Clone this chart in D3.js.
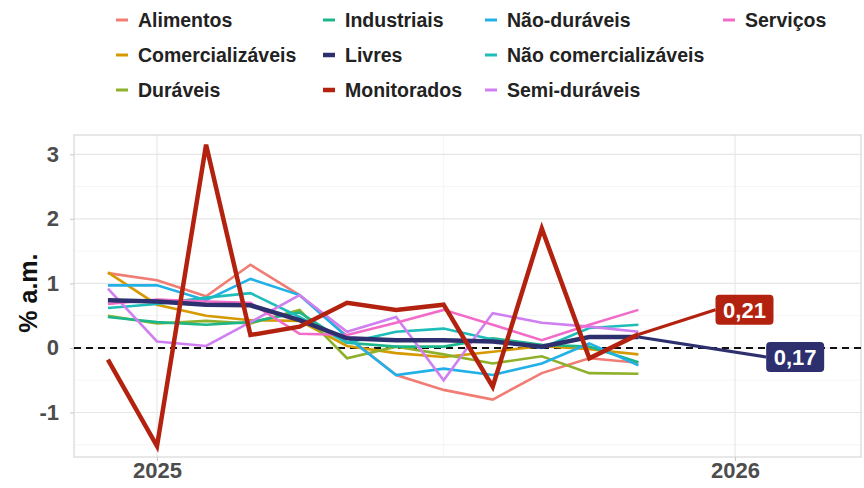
<!DOCTYPE html>
<html>
<head>
<meta charset="utf-8">
<script src="https://cdn.jsdelivr.net/npm/d3@7"></script>
<style>
  body { margin: 0; background: #fff; }
  svg { display: block; font-family: "Liberation Sans", Arial, sans-serif; }
</style>
</head>
<body>
<script>
// monthly inflation by IPCA group, % a.m.
var months = ["2024-12-01", "2025-01-01", "2025-02-01", "2025-03-01", "2025-04-01", "2025-05-01",
              "2025-06-01", "2025-07-01", "2025-08-01", "2025-09-01", "2025-10-01", "2025-11-01"];

var alimentos          = [1.16, 1.05, 0.80, 1.29, 0.82, 0.18, -0.42, -0.65, -0.80, -0.39, -0.16, -0.23];
var comercializaveis   = [1.17, 0.67, 0.50, 0.43, 0.42, 0.03, -0.08, -0.14, -0.06, 0.03, -0.02, -0.10];
var duraveis           = [0.50, 0.38, 0.42, 0.38, 0.59, -0.16, 0.02, -0.10, -0.24, -0.13, -0.39, -0.40];
var industriais        = [0.48, 0.40, 0.36, 0.40, 0.55, 0.08, 0.02, 0.02, 0.15, 0.05, 0.02, -0.22];
var livres             = [0.74, 0.72, 0.67, 0.66, 0.43, 0.15, 0.12, 0.12, 0.10, 0.02, 0.17, 0.17];
var monitorados        = [-0.18, -1.52, 3.15, 0.20, 0.33, 0.70, 0.59, 0.67, -0.60, 1.85, -0.16, 0.21];
var naoDuraveis        = [0.97, 0.97, 0.74, 1.07, 0.82, 0.17, -0.42, -0.32, -0.42, -0.24, 0.07, -0.27];
var naoComercializaveis = [0.62, 0.68, 0.78, 0.85, 0.48, 0.08, 0.25, 0.30, 0.13, 0.00, 0.31, 0.36];
var semiDuraveis       = [0.92, 0.10, 0.03, 0.40, 0.82, 0.25, 0.48, -0.50, 0.54, 0.39, 0.33, 0.25];
var servicos           = [0.68, 0.75, 0.72, 0.70, 0.22, 0.20, 0.39, 0.59, 0.36, 0.12, 0.36, 0.59];

var yTicks = [-1, 0, 1, 2, 3];
var xTicks = ["2025-01-01", "2026-01-01"];

// labels for the last values (placed like ggrepel)
var labelNames  = ["Monitorados", "Livres"];
var labelTexts  = ["0,21", "0,17"];
var labelDates  = ["2026-01-07", "2026-02-08"];
var labelLevels = [0.59, -0.14];

var series = [
  {name: "Alimentos", values: alimentos, color: "#f07c74", w: 2.6},
  {name: "Comercializáveis", values: comercializaveis, color: "#d69a00", w: 2.6},
  {name: "Duráveis", values: duraveis, color: "#8fb02a", w: 2.6},
  {name: "Industriais", values: industriais, color: "#1db58a", w: 2.6},
  {name: "Não-duráveis", values: naoDuraveis, color: "#22b1e6", w: 2.6},
  {name: "Não comercializáveis", values: naoComercializaveis, color: "#1ebdba", w: 2.6},
  {name: "Semi-duráveis", values: semiDuraveis, color: "#d07ff0", w: 2.6},
  {name: "Serviços", values: servicos, color: "#f26bc8", w: 2.6},
  {name: "Livres", values: livres, color: "#2d2f6e", w: 4.5},
  {name: "Monitorados", values: monitorados, color: "#b3220f", w: 4.5}
];
var colorOf = {};
series.forEach(function(s) { colorOf[s.name] = s; });

// legend columns (ggplot fills column by column)
var legendCols = [
  ["Alimentos", "Comercializáveis", "Duráveis"],
  ["Industriais", "Livres", "Monitorados"],
  ["Não-duráveis", "Não comercializáveis", "Semi-duráveis"],
  ["Serviços"]
];

var W = 864, H = 488;
var margin = {top: 135, right: 3, bottom: 31, left: 74};
var parse = d3.timeParse("%Y-%m-%d");

var svg = d3.select("body").append("svg")
    .attr("width", W)
    .attr("height", H);

// scales
var base = d3.scaleTime()
    .domain([parse("2025-01-01"), parse("2026-01-01")])
    .range([157, 735]);
var x = d3.scaleTime()
    .domain([base.invert(margin.left), base.invert(W - margin.right)])
    .range([margin.left, W - margin.right]);
var y = d3.scaleLinear()
    .domain([-1.69, 3.30])
    .range([H - margin.bottom, margin.top]);

var panel = svg.append("g");

// minor grid
var minorY = [-1.5, -0.5, 0.5, 1.5, 2.5];
panel.selectAll(".minY").data(minorY).enter().append("line")
    .attr("x1", margin.left).attr("x2", W - margin.right)
    .attr("y1", function(d) { return y(d); }).attr("y2", function(d) { return y(d); })
    .attr("stroke", "#f2f2f2").attr("stroke-width", 0.8);
panel.selectAll(".minX").data(["2025-07-01"]).enter().append("line")
    .attr("y1", margin.top).attr("y2", H - margin.bottom)
    .attr("x1", function(d) { return x(parse(d)); }).attr("x2", function(d) { return x(parse(d)); })
    .attr("stroke", "#f2f2f2").attr("stroke-width", 0.8);

// major grid
panel.selectAll(".majY").data(yTicks).enter().append("line")
    .attr("x1", margin.left).attr("x2", W - margin.right)
    .attr("y1", function(d) { return y(d); }).attr("y2", function(d) { return y(d); })
    .attr("stroke", "#e6e6e6").attr("stroke-width", 1.1);
panel.selectAll(".majX").data(xTicks).enter().append("line")
    .attr("y1", margin.top).attr("y2", H - margin.bottom)
    .attr("x1", function(d) { return x(parse(d)); }).attr("x2", function(d) { return x(parse(d)); })
    .attr("stroke", "#e6e6e6").attr("stroke-width", 1.1);

// panel border
panel.append("rect")
    .attr("x", margin.left).attr("y", margin.top)
    .attr("width", W - margin.right - margin.left)
    .attr("height", H - margin.bottom - margin.top)
    .attr("fill", "none").attr("stroke", "#d0d0d0").attr("stroke-width", 1);

// axes
var yAxis = svg.append("g")
    .attr("transform", "translate(" + margin.left + ",0)")
    .call(d3.axisLeft(y).tickValues(yTicks).tickSize(4).tickPadding(11)
          .tickFormat(function(d) { return String(d); }));
var xAxis = svg.append("g")
    .attr("transform", "translate(0," + (H - margin.bottom) + ")")
    .call(d3.axisBottom(x).tickValues(xTicks.map(parse)).tickSize(4).tickPadding(1)
          .tickFormat(d3.timeFormat("%Y")));
[yAxis, xAxis].forEach(function(a) {
  a.select(".domain").remove();
  a.selectAll(".tick line").attr("stroke", "#c8c8c8").attr("stroke-width", 1);
  a.selectAll(".tick text")
    .attr("fill", "#4d4d4d")
    .style("font-size", "22px")
    .style("font-weight", "bold")
    .style("font-family", "'Liberation Sans', Arial, sans-serif");
});

svg.append("text")
    .attr("transform", "translate(37," + y(0.85) + ") rotate(-90)")
    .attr("text-anchor", "middle")
    .style("font-size", "25px")
    .style("font-weight", "bold")
    .attr("fill", "#111")
    .text("% a.m.");

// zero line
panel.append("line")
    .attr("x1", margin.left).attr("x2", W - margin.right)
    .attr("y1", y(0)).attr("y2", y(0))
    .attr("stroke", "#111").attr("stroke-width", 2)
    .attr("stroke-dasharray", "7,5");

// series
var line = d3.line()
    .x(function(d, i) { return x(parse(months[i])); })
    .y(function(d) { return y(d); });

svg.append("g").selectAll("path").data(series).enter().append("path")
    .attr("d", function(s) { return line(s.values); })
    .attr("fill", "none")
    .attr("stroke", function(s) { return s.color; })
    .attr("stroke-width", function(s) { return s.w; })
    .attr("stroke-linejoin", "miter");

// value labels with segments
var lastDate = parse(months[months.length - 1]);
var lab = svg.append("g");
labelNames.forEach(function(n, i) {
  var s = colorOf[n];
  var cx = x(parse(labelDates[i])), cy = y(labelLevels[i]);
  var bw = 58, bh = 30;
  lab.append("line")
      .attr("x1", x(lastDate)).attr("y1", y(s.values[s.values.length - 1]))
      .attr("x2", cx - bw / 2).attr("y2", cy)
      .attr("stroke", s.color).attr("stroke-width", s.w * 0.7);
  lab.append("rect")
      .attr("x", cx - bw / 2).attr("y", cy - bh / 2)
      .attr("width", bw).attr("height", bh)
      .attr("rx", 4)
      .attr("fill", s.color);
  lab.append("text")
      .attr("x", cx).attr("y", cy + 8)
      .attr("text-anchor", "middle")
      .style("font-size", "22px")
      .style("font-weight", "bold")
      .attr("fill", "#fff")
      .text(labelTexts[i]);
});

// legend
var colX = [138, 345, 507, 745];
var rowY = [20, 55, 90];
var leg = svg.append("g");
legendCols.forEach(function(col, ci) {
  col.forEach(function(n, ri) {
    var s = colorOf[n];
    leg.append("line")
        .attr("x1", colX[ci] - 22).attr("x2", colX[ci] - 10)
        .attr("y1", rowY[ri]).attr("y2", rowY[ri])
        .attr("stroke", s.color)
        .attr("stroke-width", s.w > 3 ? 4.5 : 3);
    leg.append("text")
        .attr("x", colX[ci]).attr("y", rowY[ri] + 7)
        .style("font-size", "19.5px")
        .style("font-weight", "bold")
        .attr("fill", "#222")
        .text(n);
  });
});
</script>
</body>
</html>
